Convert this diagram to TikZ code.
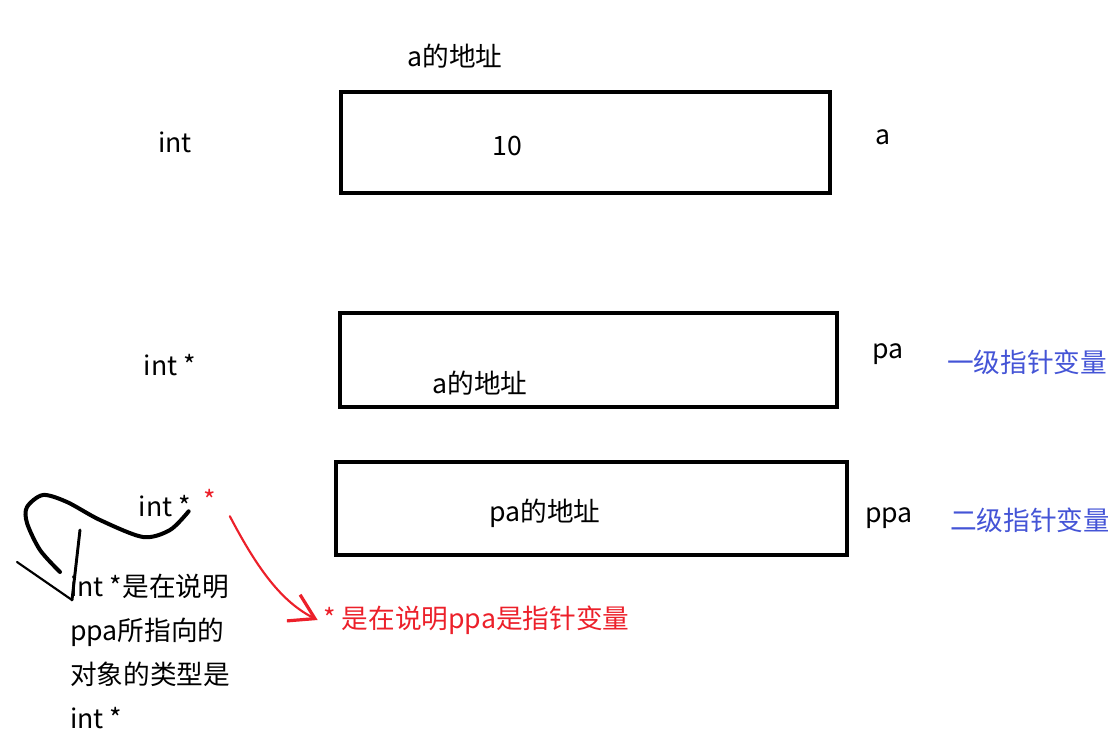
\documentclass[tikz,border=0pt]{standalone}
\usepackage{fontspec}
\newfontfamily\cjk{Noto Sans CJK SC}
\usetikzlibrary{arrows.meta}
\definecolor{notered}{RGB}{236,32,42}
\definecolor{noteblue}{RGB}{68,84,214}
\tikzset{
  cell/.style={draw,line width=3pt,inner sep=0pt},
  lbl/.style={font=\cjk\fontsize{20}{24}\selectfont,inner sep=0pt},
  pen/.style={line width=3pt,line cap=round,line join=round},
}

\begin{document}
\begin{tikzpicture}[x=0.75pt,y=-0.75pt]
  \useasboundingbox (0,0) rectangle (1108,732);
  % the three cells
  \node[cell,minimum width=366.75pt,minimum height=75.75pt] (a) at (585.5,142.5) {};
  \node[cell,minimum width=372.75pt,minimum height=70.5pt] (pa) at (588.5,360) {};
  \node[cell,minimum width=383.25pt,minimum height=69.75pt] (ppa) at (591.5,508.5) {};
  % labels
  \node[lbl] (addra) at (455,56) {a的地址};
  \node[lbl] (tint) at (175,142) {int};
  \node[lbl] (vala) at (507,146) {10};
  \node[lbl] (namea) at (883,137) {a};
  \node[lbl] (tintp) at (170,365) {int *};
  \node[lbl] (valpa) at (480,383) {a的地址};
  \node[lbl] (namepa) at (888,354) {pa};
  \node[lbl,noteblue] (lvl1) at (1027,362) {一级指针变量};
  \node[lbl] (intpp) at (165,506) {int *};
  \node[lbl,notered] (redstar) at (210,500) {*};
  \node[lbl] (valppa) at (545,513) {pa的地址};
  \node[lbl] (nameppa) at (889,518) {ppa};
  \node[lbl,noteblue] (lvl2) at (1030,520) {二级指针变量};
  \node[lbl,align=left,anchor=north west,font=\cjk\fontsize{20}{33}\selectfont]
    (note) at (70,574) {int *是在说明\\ppa所指向的\\对象的类型是\\int *};
  \node[lbl,notered,anchor=west] (redtext) at (323,620) {* 是在说明ppa是指针变量};
  % hand-drawn marks
  \coordinate (btip) at (72,600);
  \draw[pen] plot[smooth] coordinates {
    ([shift={(-2pt,-4pt)}]intpp.east) (170,530) (143,537) (100,520) (67,502)
    (43,495) (27,507) (27,523) (40,550) (60,572)};
  \draw[pen,line width=1.6pt] (17,562) -- (btip);
  \draw[pen,line width=2.2pt] (80,530) -- (btip);
  \draw[pen,notered,line width=1.6pt,-{Straight Barb[length=18pt,width=22pt,line width=2.4pt]}]
    ([shift={(10pt,-4pt)}]redstar.south east) .. controls (258,570) and (282,602)
    .. ([xshift=-4pt]redtext.west);
\end{tikzpicture}
\end{document}
